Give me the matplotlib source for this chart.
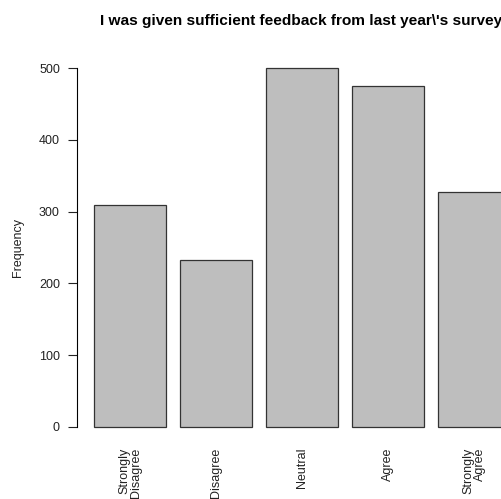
import matplotlib
matplotlib.use("Agg")
import matplotlib.pyplot as plt

categories = ["Strongly\nDisagree", "Disagree", "Neutral", "Agree", "Strongly\nAgree"]
values = [310, 233, 500, 476, 327]
yticks = [0, 100, 200, 300, 400, 500]
title = "I was given sufficient feedback from last year\\'s survey"
ylabel = "Frequency"

plt.rcParams['font.family'] = ['Liberation Sans', 'DejaVu Sans']

W, H = 502, 499
fig = plt.figure(figsize=(W / 100, H / 100), dpi=100)
left, right, bottom, top = 77.4, 526.5, 441.0, 54.0
ax = fig.add_axes([left / W, (H - bottom) / H, (right - left) / W, (bottom - top) / H])

centers = [0.7 + 1.2 * i for i in range(len(values))]
ax.bar(centers, values, width=1.0, color='#BEBEBE', edgecolor='#333333', linewidth=0.9)
ax.set_xlim(-0.032, 6.232)
ax.set_ylim(-20, 520)

for s in ['top', 'right', 'bottom']:
    ax.spines[s].set_visible(False)
ax.spines['left'].set_bounds(0, 500)
ax.spines['left'].set_linewidth(0.8)

ax.set_yticks(yticks)
ax.set_yticklabels([str(v) for v in yticks], fontsize=9)
ax.tick_params(axis='y', length=6.3, width=0.8, pad=6.3, colors='#222222')

ax.set_xticks(centers)
ax.set_xticklabels(categories, rotation=90, fontsize=9, ha='center', va='top',
                   multialignment='right', linespacing=0.95, color='#222222')
ax.tick_params(axis='x', length=0, pad=5)

fig.text(18 / W, 1 - 247.5 / H, ylabel, rotation=90, fontsize=9, ha='center', va='center',
         color='#222222')
fig.text(301 / W, 1 - 21 / H, title, fontsize=11.1, fontweight='bold', ha='center', va='center')

fig.savefig("out.png", dpi=100)
